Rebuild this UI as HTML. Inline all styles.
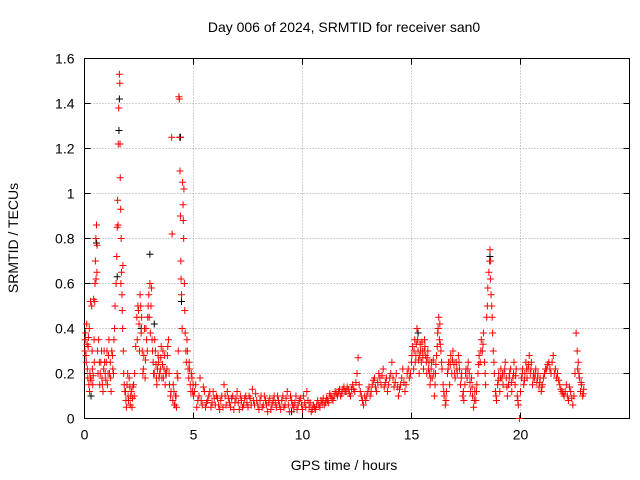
<!DOCTYPE html>
<html><head><meta charset="utf-8"><style>
body{margin:0;background:#fff}
svg{display:block;font-family:"Liberation Sans",sans-serif}
</style></head><body>
<svg id="chart" width="640" height="480" viewBox="0 0 640 480">
<rect width="640" height="480" fill="#fff"/>
<text x="344" y="32" font-size="14" text-anchor="middle">Day 006 of 2024, SRMTID for receiver san0</text>
<text x="344" y="470" font-size="14" text-anchor="middle">GPS time / hours</text>
<text transform="translate(18,238) rotate(-90)" font-size="14" text-anchor="middle">SRMTID / TECUs</text>
<g id="grid"></g>
<g id="axes"></g>
<g id="marks"></g>
</svg>
<script>
const xTicks=[0,5,10,15,20];
const yTicks=[0,0.2,0.4,0.6,0.8,1,1.2,1.4,1.6];
const yTickLabels=["0","0.2","0.4","0.6","0.8","1","1.2","1.4","1.6"];
const redSeries=[[0.02,0.30],[0.05,0.38],[0.08,0.25],[0.1,0.42],[0.12,0.33],[0.15,0.18],[0.18,0.36],[0.2,0.15],[0.22,0.4],[0.25,0.2],[0.28,0.52],[0.3,0.17],[0.33,0.5],[0.36,0.22],[0.4,0.19],[0.42,0.53],[0.45,0.25],[0.48,0.6],[0.5,0.7],[0.52,0.8],[0.55,0.86],[0.58,0.77],[0.6,0.3],[0.62,0.2],[0.65,0.35],[0.7,0.15],[0.75,0.25],[0.8,0.18],[0.85,0.12],[0.9,0.3],[0.95,0.2],[1.0,0.25],[1.05,0.15],[1.1,0.28],[1.15,0.2],[1.2,0.18],[1.25,0.3],[1.3,0.22],[1.35,0.35],[1.4,0.5],[1.45,0.6],[1.48,0.72],[1.5,0.85],[1.52,0.97],[1.55,1.22],[1.57,1.38],[1.6,1.53],[1.62,1.49],[1.64,1.07],[1.66,0.93],[1.68,0.8],[1.7,0.65],[1.72,0.55],[1.75,0.4],[1.78,0.3],[1.8,0.2],[1.85,0.12],[1.9,0.08],[1.95,0.15],[2.0,0.1],[2.05,0.18],[2.1,0.06],[2.15,0.12],[2.2,0.09],[2.25,0.15],[2.3,0.2],[2.35,0.32],[2.4,0.45],[2.45,0.5],[2.5,0.42],[2.55,0.55],[2.6,0.38],[2.65,0.3],[2.7,0.22],[2.75,0.4],[2.8,0.26],[2.85,0.35],[2.9,0.45],[2.95,0.55],[3.0,0.6],[3.05,0.5],[3.1,0.35],[3.15,0.25],[3.2,0.2],[3.25,0.3],[3.3,0.18],[3.35,0.22],[3.4,0.25],[3.45,0.2],[3.5,0.27],[3.55,0.18],[3.6,0.3],[3.65,0.22],[3.7,0.15],[3.75,0.2],[3.8,0.28],[3.85,0.35],[3.9,0.15],[3.95,0.1],[4.0,1.25],[4.02,0.82],[4.05,0.08],[4.1,0.12],[4.15,0.06],[4.2,0.1],[4.25,0.2],[4.3,0.3],[4.33,1.43],[4.35,1.42],[4.38,1.1],[4.4,0.9],[4.42,0.7],[4.45,0.55],[4.48,0.4],[4.5,1.05],[4.52,0.95],[4.55,0.8],[4.58,0.6],[4.6,0.48],[4.65,0.3],[4.7,0.35],[4.75,0.22],[4.8,0.25],[4.85,0.15],[4.9,0.2],[4.95,0.12],[5.0,0.1],[5.1,0.15],[5.2,0.08],[5.3,0.18],[5.4,0.06],[5.5,0.12],[5.6,0.07],[5.7,0.1],[5.8,0.05],[5.9,0.12],[6.0,0.06],[6.1,0.09],[6.2,0.04],[6.3,0.1],[6.4,0.15],[6.5,0.06],[6.6,0.09],[6.7,0.05],[6.8,0.1],[6.9,0.07],[7.0,0.12],[7.1,0.04],[7.2,0.08],[7.3,0.06],[7.4,0.1],[7.5,0.05],[7.6,0.09],[7.7,0.13],[7.8,0.06],[7.9,0.08],[8.0,0.04],[8.1,0.1],[8.2,0.06],[8.3,0.08],[8.4,0.03],[8.5,0.09],[8.6,0.06],[8.7,0.1],[8.8,0.05],[8.9,0.08],[9.0,0.04],[9.1,0.1],[9.2,0.06],[9.3,0.12],[9.4,0.03],[9.5,0.08],[9.6,0.05],[9.7,0.1],[9.8,0.06],[9.9,0.09],[10.0,0.04],[10.1,0.07],[10.2,0.12],[10.3,0.05],[10.4,0.03],[10.5,0.06],[10.6,0.04],[10.7,0.08],[10.8,0.05],[10.9,0.07],[11.0,0.06],[11.1,0.09],[11.2,0.07],[11.3,0.1],[11.4,0.08],[11.5,0.12],[11.6,0.1],[11.7,0.13],[11.8,0.11],[11.9,0.14],[12.0,0.12],[12.1,0.13],[12.2,0.1],[12.3,0.15],[12.4,0.12],[12.5,0.2],[12.55,0.27],[12.6,0.15],[12.7,0.1],[12.8,0.06],[12.9,0.08],[13.0,0.12],[13.1,0.1],[13.2,0.15],[13.3,0.18],[13.4,0.12],[13.5,0.2],[13.6,0.15],[13.7,0.22],[13.8,0.16],[13.9,0.12],[14.0,0.18],[14.1,0.25],[14.2,0.14],[14.3,0.2],[14.4,0.1],[14.5,0.15],[14.6,0.22],[14.7,0.12],[14.8,0.2],[14.9,0.18],[15.0,0.25],[15.05,0.32],[15.1,0.22],[15.15,0.35],[15.2,0.28],[15.25,0.4],[15.3,0.3],[15.35,0.2],[15.4,0.33],[15.45,0.25],[15.5,0.3],[15.55,0.22],[15.6,0.35],[15.65,0.28],[15.7,0.2],[15.75,0.3],[15.8,0.25],[15.85,0.15],[15.9,0.22],[15.95,0.18],[16.0,0.26],[16.05,0.1],[16.1,0.2],[16.15,0.28],[16.2,0.38],[16.25,0.45],[16.3,0.42],[16.35,0.3],[16.4,0.22],[16.45,0.15],[16.5,0.1],[16.55,0.06],[16.6,0.12],[16.65,0.2],[16.7,0.25],[16.75,0.15],[16.8,0.28],[16.85,0.2],[16.9,0.3],[16.95,0.24],[17.0,0.18],[17.05,0.25],[17.1,0.2],[17.15,0.28],[17.2,0.22],[17.25,0.15],[17.3,0.2],[17.35,0.1],[17.4,0.08],[17.45,0.15],[17.5,0.22],[17.55,0.18],[17.6,0.25],[17.65,0.2],[17.7,0.12],[17.75,0.18],[17.8,0.1],[17.85,0.05],[17.9,0.12],[17.95,0.08],[18.0,0.15],[18.05,0.2],[18.1,0.28],[18.15,0.25],[18.2,0.35],[18.25,0.3],[18.3,0.38],[18.35,0.25],[18.4,0.15],[18.45,0.45],[18.5,0.58],[18.55,0.65],[18.6,0.75],[18.63,0.7],[18.65,0.55],[18.7,0.45],[18.75,0.3],[18.8,0.2],[18.85,0.12],[18.9,0.08],[18.95,0.15],[19.0,0.2],[19.05,0.12],[19.1,0.22],[19.15,0.18],[19.2,0.15],[19.25,0.2],[19.3,0.25],[19.35,0.18],[19.4,0.1],[19.45,0.15],[19.5,0.2],[19.55,0.22],[19.6,0.12],[19.65,0.18],[19.7,0.25],[19.75,0.15],[19.8,0.22],[19.85,0.1],[19.9,0.06],[19.95,0.0],[20.0,0.12],[20.05,0.18],[20.1,0.22],[20.15,0.15],[20.2,0.2],[20.25,0.25],[20.3,0.18],[20.35,0.22],[20.4,0.28],[20.45,0.2],[20.5,0.25],[20.55,0.15],[20.6,0.2],[20.65,0.18],[20.7,0.22],[20.75,0.16],[20.8,0.2],[20.85,0.14],[20.9,0.18],[20.95,0.12],[21.0,0.15],[21.1,0.2],[21.2,0.22],[21.3,0.25],[21.4,0.2],[21.5,0.28],[21.6,0.22],[21.7,0.2],[21.8,0.15],[21.9,0.12],[22.0,0.1],[22.1,0.15],[22.2,0.08],[22.3,0.12],[22.4,0.06],[22.5,0.2],[22.55,0.38],[22.6,0.3],[22.65,0.25],[22.7,0.18],[22.75,0.12],[22.8,0.15],[22.85,0.1],[22.9,0.13]];
const redSeriesExtra=[[0.03,0.35],[0.07,0.28],[0.13,0.22],[0.17,0.32],[0.23,0.12],[0.27,0.18],[0.35,0.3],[0.38,0.15],[0.44,0.35],[0.47,0.52],[0.53,0.62],[0.57,0.65],[0.68,0.25],[0.72,0.2],[0.78,0.3],[0.82,0.15],[0.88,0.22],[0.92,0.25],[0.98,0.17],[1.03,0.3],[1.08,0.2],[1.12,0.35],[1.18,0.25],[1.22,0.12],[1.28,0.28],[1.33,0.2],[1.38,0.4],[1.54,0.86],[1.63,1.22],[1.67,0.6],[1.73,0.48],[1.76,0.68],[1.82,0.15],[1.88,0.12],[1.92,0.05],[1.98,0.2],[2.02,0.08],[2.08,0.14],[2.12,0.1],[2.18,0.05],[2.22,0.14],[2.28,0.1],[2.42,0.35],[2.48,0.48],[2.52,0.3],[2.58,0.5],[2.62,0.45],[2.68,0.2],[2.72,0.28],[2.78,0.18],[2.82,0.4],[2.88,0.3],[2.92,0.5],[2.97,0.45],[3.02,0.38],[3.07,0.58],[3.12,0.3],[3.17,0.2],[3.22,0.35],[3.28,0.24],[3.32,0.15],[3.38,0.28],[3.42,0.18],[3.48,0.22],[3.52,0.32],[3.58,0.24],[3.62,0.18],[3.68,0.28],[3.72,0.2],[3.78,0.22],[3.82,0.32],[3.88,0.2],[3.97,0.12],[4.07,0.15],[4.12,0.06],[4.17,0.1],[4.22,0.05],[4.28,0.18],[4.36,1.25],[4.43,0.62],[4.53,0.88],[4.56,1.02],[4.62,0.38],[4.67,0.25],[4.72,0.3],[4.78,0.18],[4.82,0.22],[4.88,0.12],[4.93,0.18],[4.98,0.15],[5.05,0.12],[5.15,0.05],[5.25,0.1],[5.35,0.08],[5.45,0.14],[5.55,0.05],[5.65,0.08],[5.75,0.12],[5.85,0.07],[5.95,0.09],[6.05,0.1],[6.15,0.06],[6.25,0.08],[6.35,0.05],[6.45,0.1],[6.55,0.12],[6.65,0.07],[6.75,0.09],[6.85,0.04],[6.95,0.09],[7.05,0.07],[7.15,0.1],[7.25,0.05],[7.35,0.09],[7.45,0.07],[7.55,0.1],[7.65,0.06],[7.75,0.08],[7.85,0.11],[7.95,0.06],[8.05,0.08],[8.15,0.05],[8.25,0.1],[8.35,0.06],[8.45,0.07],[8.55,0.04],[8.65,0.08],[8.75,0.07],[8.85,0.1],[8.95,0.06],[9.05,0.08],[9.15,0.05],[9.25,0.09],[9.35,0.06],[9.45,0.1],[9.55,0.06],[9.65,0.07],[9.75,0.04],[9.85,0.08],[9.95,0.06],[10.05,0.1],[10.15,0.05],[10.25,0.08],[10.35,0.07],[10.45,0.04],[10.55,0.05],[10.65,0.06],[10.75,0.06],[10.85,0.08],[10.95,0.09],[11.05,0.07],[11.15,0.08],[11.25,0.11],[11.35,0.09],[11.45,0.1],[11.55,0.11],[11.65,0.12],[11.75,0.1],[11.85,0.13],[11.95,0.12],[12.05,0.14],[12.15,0.11],[12.25,0.13],[12.35,0.13],[12.45,0.16],[12.65,0.12],[12.75,0.08],[12.85,0.1],[12.95,0.1],[13.05,0.14],[13.15,0.12],[13.25,0.17],[13.35,0.14],[13.45,0.16],[13.55,0.18],[13.65,0.19],[13.75,0.14],[13.85,0.18],[13.95,0.15],[14.05,0.2],[14.15,0.18],[14.25,0.16],[14.35,0.14],[14.45,0.13],[14.55,0.18],[14.65,0.16],[14.75,0.15],[14.85,0.22],[14.95,0.2],[15.02,0.28],[15.12,0.3],[15.17,0.25],[15.22,0.33],[15.28,0.35],[15.32,0.26],[15.38,0.28],[15.42,0.3],[15.48,0.34],[15.52,0.27],[15.58,0.3],[15.62,0.32],[15.68,0.25],[15.72,0.27],[15.78,0.22],[15.82,0.2],[15.88,0.18],[15.92,0.25],[16.02,0.2],[16.08,0.15],[16.12,0.24],[16.18,0.32],[16.22,0.4],[16.28,0.35],[16.32,0.33],[16.38,0.25],[16.48,0.12],[16.58,0.08],[16.68,0.22],[16.78,0.24],[16.88,0.26],[16.98,0.2],[17.08,0.22],[17.18,0.25],[17.28,0.18],[17.38,0.12],[17.48,0.2],[17.58,0.22],[17.68,0.16],[17.78,0.14],[17.88,0.08],[17.98,0.12],[18.08,0.24],[18.18,0.3],[18.28,0.33],[18.38,0.2],[18.48,0.5],[18.58,0.7],[18.62,0.62],[18.68,0.5],[18.72,0.38],[18.78,0.25],[18.88,0.1],[18.98,0.17],[19.08,0.18],[19.18,0.2],[19.28,0.22],[19.38,0.14],[19.48,0.18],[19.58,0.16],[19.68,0.2],[19.78,0.19],[19.88,0.08],[20.08,0.2],[20.18,0.17],[20.28,0.22],[20.38,0.24],[20.48,0.22],[20.58,0.18],[20.68,0.2],[20.78,0.18],[20.88,0.16],[20.98,0.14],[21.05,0.18],[21.15,0.22],[21.25,0.24],[21.35,0.22],[21.45,0.25],[21.55,0.2],[21.65,0.18],[21.75,0.17],[21.85,0.13],[21.95,0.11],[22.05,0.12],[22.15,0.1],[22.25,0.14],[22.35,0.09],[22.45,0.1],[22.62,0.22],[22.68,0.2],[22.78,0.16],[22.88,0.11]];
const blackSeries=[[1.6,1.42],[1.58,1.28],[0.55,0.78],[3.0,0.73],[4.4,1.25],[4.45,0.52],[2.6,0.4],[18.6,0.72],[1.5,0.63],[0.3,0.1],[9.5,0.03],[15.3,0.38],[3.2,0.42]];

const L=84.5,R=629.5,T=58.5,B=418.5,XMAX=25,YMAX=1.6;
const xs=v=>L+v/XMAX*(R-L);
const ys=v=>B-v/YMAX*(B-T);
const NS="http://www.w3.org/2000/svg";
function mk(tag,attrs,parent){const e=document.createElementNS(NS,tag);for(const k in attrs)e.setAttribute(k,attrs[k]);parent.appendChild(e);return e;}
const grid=document.getElementById('grid'),axes=document.getElementById('axes'),marks=document.getElementById('marks');
yTicks.forEach((v,i)=>{
  const y=ys(v);
  if(i>0&&i<yTicks.length-1){const g=mk('line',{x1:L,x2:R,y1:y,y2:y,stroke:'#a0a0a0','stroke-dasharray':'1,2','stroke-width':1},grid);
  
  }
  mk('line',{x1:L,x2:L+6,y1:y,y2:y,stroke:'#000'},axes);
  mk('line',{x1:R,x2:R-6,y1:y,y2:y,stroke:'#000'},axes);
  const t=mk('text',{x:L-10,y:y+5,'font-size':14,'text-anchor':'end'},axes);
  t.textContent=yTickLabels[i];
  
  
});
xTicks.forEach(v=>{
  const x=xs(v);
  if(v>0){const g=mk('line',{x1:x,x2:x,y1:T,y2:B,stroke:'#a0a0a0','stroke-dasharray':'1,2','stroke-width':1},grid);
  
  }
  mk('line',{x1:x,x2:x,y1:B,y2:B-6,stroke:'#000'},axes);
  mk('line',{x1:x,x2:x,y1:T,y2:T+6,stroke:'#000'},axes);
  const t=mk('text',{x:x,y:B+21,'font-size':14,'text-anchor':'middle'},axes);
  t.textContent=String(v);
  
  
});
const frame=mk('rect',{x:L,y:T,width:R-L,height:B-T,fill:'none',stroke:'#000'},axes);


function plus(d,color){
  const x=xs(d[0]),y=ys(d[1]);
  const p=mk('path',{d:`M${x-3.5},${y}H${x+3.5}M${x},${y-3.5}V${y+3.5}`,stroke:color,'stroke-width':1,fill:'none'},marks);
  
  
}
blackSeries.forEach(d=>plus(d,'#000'));
redSeries.forEach(d=>plus(d,'#ff0000'));
redSeriesExtra.forEach(d=>plus(d,'#ff0000'));
</script>
</body></html>
